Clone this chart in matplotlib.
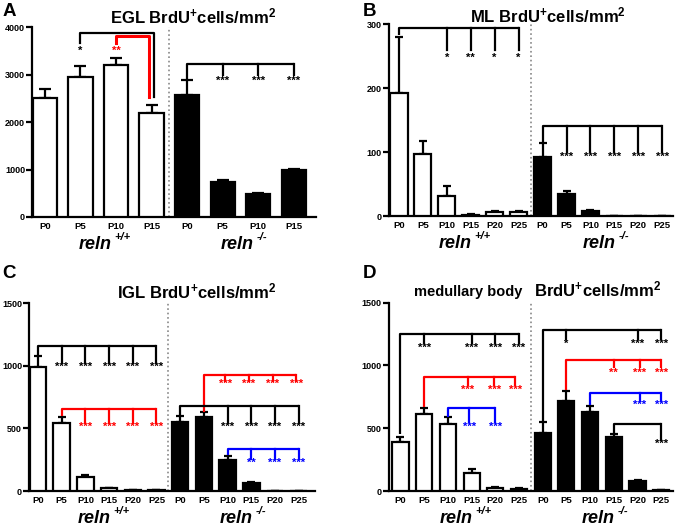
import numpy as np
import matplotlib
matplotlib.use('Agg')
import matplotlib.pyplot as plt

plt.rcParams['font.family'] = ['Liberation Sans', 'DejaVu Sans']
plt.rcParams['font.weight'] = 'bold'
plt.rcParams['mathtext.fontset'] = 'custom'
plt.rcParams['mathtext.rm'] = 'Liberation Sans:bold'
plt.rcParams['mathtext.bf'] = 'Liberation Sans:bold'
plt.rcParams['mathtext.it'] = 'Liberation Sans:italic:bold'

# ---- data ----
ages4 = ['P0', 'P5', 'P10', 'P15']
ages6 = ['P0', 'P5', 'P10', 'P15', 'P20', 'P25']
groups = ['+/+', '-/-']

egl_wt = [2510, 2940, 3200, 2190]
egl_wt_err = [190, 240, 145, 175]
egl_ko = [2560, 735, 490, 980]
egl_ko_err = [330, 40, 25, 40]

ml_wt = [193, 97, 31, 2.6, 7, 7]
ml_wt_err = [88, 20, 17, 0.6, 1.2, 1.2]
ml_ko = [93, 34, 8, 0.5, 0.5, 0.3]
ml_ko_err = [22, 6, 1.5, 0, 0, 0]

igl_wt = [994, 546, 112, 24, 5, 7]
igl_wt_err = [88, 48, 16, 3, 1, 1]
igl_ko = [549, 589, 248, 67, 3, 1]
igl_ko_err = [53, 45, 32, 8, 1, 0]

med_wt = [388, 611, 534, 146, 27, 19]
med_wt_err = [45, 53, 53, 27, 3, 2]
med_ko = [465, 717, 627, 427, 80, 8]
med_ko_err = [87, 79, 53, 27, 8, 1]

RED = '#ff0000'
BLUE = '#0000ff'
LW = 1.6


def bars(ax, wt, wt_err, ko, ko_err, labels, width, capsize):
    n = len(wt)
    xw = np.arange(n)
    xk = np.arange(n, 2 * n)
    ax.bar(xw, wt, width, color='white', edgecolor='black', linewidth=LW, zorder=3)
    ax.bar(xk, ko, width, color='black', edgecolor='black', linewidth=LW, zorder=3)
    ax.errorbar(xw, wt, yerr=[np.zeros(n), wt_err], fmt='none', ecolor='black',
                elinewidth=LW, capsize=capsize, capthick=LW, zorder=2)
    ax.errorbar(xk, ko, yerr=[np.zeros(n), ko_err], fmt='none', ecolor='black',
                elinewidth=LW, capsize=capsize, capthick=LW, zorder=2)
    ax.set_xticks(np.arange(2 * n))
    ax.set_xticklabels(labels + labels)
    ax.axvline(n - 0.5, color='#888888', ls=':', lw=1.2, zorder=1)
    for xc, g in [((n - 1) / 2, groups[0]), (n + (n - 1) / 2, groups[1])]:
        ax.annotate('reln', xy=(xc, 0), xycoords=('data', 'axes fraction'),
                    xytext=(-2.5, -19.5), textcoords='offset points', ha='center',
                    va='center', fontsize=13, fontstyle='italic', fontweight='bold')
        ax.annotate(g, xy=(xc, 0), xycoords=('data', 'axes fraction'),
                    xytext=(11.5, -14.5), textcoords='offset points', ha='left',
                    va='center', fontsize=8, fontstyle='italic', fontweight='bold')


def style(ax, ylim, yticks, xlim):
    ax.set_ylim(*ylim)
    ax.set_xlim(*xlim)
    ax.set_yticks(yticks)
    for s in ['top', 'right']:
        ax.spines[s].set_visible(False)
    for s in ['left', 'bottom']:
        ax.spines[s].set_linewidth(LW)
    ax.tick_params(axis='y', direction='out', length=4, width=LW, labelsize=6.5, pad=1)
    ax.tick_params(axis='x', length=0, labelsize=6.8, pad=3.5)
    for lab in ax.get_xticklabels() + ax.get_yticklabels():
        lab.set_fontweight('bold')


def bracket(ax, i0, y0, ticks, y_tick, y_top, color, stars, y_star, lw=LW):
    x_end = max(ticks)
    ax.plot([i0, i0, x_end], [y0, y_top, y_top], color=color, lw=lw,
            solid_capstyle='butt', zorder=4)
    for t, s in zip(ticks, stars):
        ax.plot([t, t], [y_top, y_tick], color=color, lw=lw, zorder=4)
        ax.text(t, y_star, s, ha='center', va='center', color=color, fontsize=8)


fig = plt.figure(figsize=(6.81, 5.26), dpi=100)

# ---- A: EGL ----
axA = fig.add_axes([0.047, 0.5875, 0.417, 0.361])
bars(axA, egl_wt, egl_wt_err, egl_ko, egl_ko_err, ages4, 0.68, 4.5)
style(axA, (0, 4000), [0, 1000, 2000, 3000, 4000], (-0.36, 7.62))
axA.plot([1, 1, 3.06, 3.06], [3670, 3880, 3880, 2530], color='black', lw=LW, zorder=4)
axA.plot([2, 2, 2.94, 2.94], [3670, 3810, 3810, 2530], color=RED, lw=2.2, zorder=4)
axA.text(1, 3510, '*', ha='center', va='center', fontsize=8)
axA.text(2, 3510, '**', ha='center', va='center', fontsize=8, color=RED)
bracket(axA, 4, 2890, [5, 6, 7], 3000, 3230, 'black', ['***'] * 3, 2860)

# ---- B: ML ----
axB = fig.add_axes([0.571, 0.589, 0.417, 0.3645])
bars(axB, ml_wt, ml_wt_err, ml_ko, ml_ko_err, ages6, 0.72, 3)
style(axB, (0, 300), [0, 100, 200, 300], (-0.42, 11.44))
bracket(axB, 0, 284, [2, 3, 4, 5], 260, 295, 'black', ['*', '**', '*', '*'], 248)
bracket(axB, 6, 116, [7, 8, 9, 10, 11], 101, 141, 'black', ['***'] * 5, 93)

# ---- C: IGL ----
axC = fig.add_axes([0.0426, 0.0665, 0.42, 0.357])
bars(axC, igl_wt, igl_wt_err, igl_ko, igl_ko_err, ages6, 0.7, 3)
style(axC, (0, 1500), [0, 500, 1000, 1500], (-0.38, 11.69))
bracket(axC, 0, 1087, [1, 2, 3, 4, 5], 1020, 1159, 'black', ['***'] * 5, 994)
bracket(axC, 1, 600, [2, 3, 4, 5], 541, 655, RED, ['***'] * 4, 514)
bracket(axC, 7, 634, [7.9, 8.9, 9.9, 10.9], 881, 925, RED, ['***'] * 4, 853)
bracket(axC, 6, 607, [8, 9, 10, 11], 541, 682, 'black', ['***'] * 4, 514)
bracket(axC, 8, 290, [9, 10, 11], 253, 333, BLUE, ['**', '***', '***'], 226)

# ---- D: medullary body ----
axD = fig.add_axes([0.571, 0.0665, 0.417, 0.358])
bars(axD, med_wt, med_wt_err, med_ko, med_ko_err, ages6, 0.68, 3)
style(axD, (0, 1500), [0, 500, 1000, 1500], (-0.49, 11.49))
bracket(axD, 0, 455, [1, 3, 4, 5], 1176, 1250, 'black', ['***'] * 4, 1144)
bracket(axD, 1, 672, [2.85, 3.95, 4.85], 844, 905, RED, ['***'] * 3, 804)
bracket(axD, 2, 592, [2.9, 4], 547, 664, BLUE, ['***'] * 2, 512)
bracket(axD, 6, 552, [7, 10, 11], 1208, 1282, 'black', ['*', '***', '***'], 1176)
bracket(axD, 7, 804, [9, 10.1, 11], 985, 1043, RED, ['**', '***', '***'], 942)
bracket(axD, 8, 685, [10.1, 11], 719, 778, BLUE, ['***'] * 2, 685)
bracket(axD, 9, 459, [11], 406, 533, 'black', ['***'], 372)

# ---- titles and panel letters ----
fig.text(0.283, 0.9563, 'EGL BrdU$^{+}$cells/mm$^{2}$', ha='center', va='baseline', fontsize=12)
fig.text(0.805, 0.958, 'ML BrdU$^{+}$cells/mm$^{2}$', ha='center', va='baseline', fontsize=12)
fig.text(0.289, 0.4335, 'IGL BrdU$^{+}$cells/mm$^{2}$', ha='center', va='baseline', fontsize=12)
fig.text(0.687, 0.4373, 'medullary body', ha='center', va='baseline', fontsize=10.5)
fig.text(0.877, 0.4373, 'BrdU$^{+}$cells/mm$^{2}$', ha='center', va='baseline', fontsize=12)

for x, y, s in [(0.004, 0.995, 'A'), (0.532, 0.995, 'B'), (0.004, 0.497, 'C'), (0.532, 0.497, 'D')]:
    fig.text(x, y, s, ha='left', va='top', fontsize=13.5)

fig.savefig('out.png', dpi=100)
